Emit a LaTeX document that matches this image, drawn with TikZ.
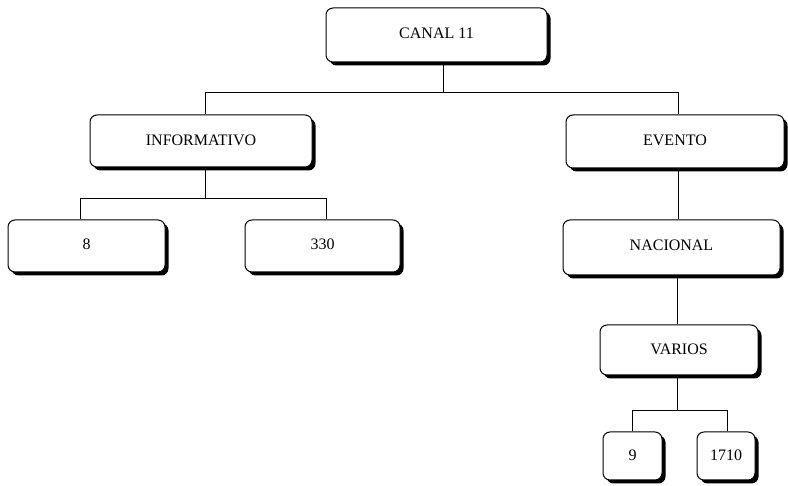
\documentclass[tikz,border=0pt]{standalone}
\usepackage{fontspec}
\setmainfont{Liberation Serif}
\usetikzlibrary{shadows}
\newcommand{\up}[2]{\raisebox{#1pt}{#2}}
\tikzset{
  box/.style={draw=black, line width=1pt, fill=white, rounded corners=7pt,
    inner sep=0pt, font=\fontsize{16}{18}\selectfont,
    drop shadow={shadow xshift=3.5pt, shadow yshift=-3.5pt, fill=black, opacity=1}},
  conn/.style={draw=black, line width=0.9pt}
}
\begin{document}
\begin{tikzpicture}[x=1pt,y=1pt]
\useasboundingbox (0,0) rectangle (788,486);
% y = 486 - pixel y
\node[box, minimum width=221pt, minimum height=54pt] (canal) at (436.5,451) {\up{4}{CANAL 11}};
\node[box, minimum width=222pt, minimum height=52pt] (info) at (201,345) {\up{2.5}{INFORMATIVO}};
\node[box, minimum width=218pt, minimum height=53pt] (evento) at (675,344.5) {\up{3}{EVENTO}};
\node[box, minimum width=157pt, minimum height=52pt] (b8) at (86.5,240) {\up{3.5}{8}};
\node[box, minimum width=155pt, minimum height=52pt] (b330) at (322.5,240) {\up{3.5}{330}};
\node[box, minimum width=217pt, minimum height=55pt] (nacional) at (671.5,238.5) {\up{5}{NACIONAL}};
\node[box, minimum width=158pt, minimum height=50pt] (varios) at (679,136) {\up{2}{VARIOS}};
\node[box, minimum width=59pt, minimum height=48pt] (b9) at (632.5,30) {\up{2}{9}};
\node[box, minimum width=58pt, minimum height=48pt] (b1710) at (726,30) {\up{2}{1710}};
% connectors
\coordinate (j1) at (443,394);
\draw[conn] ([xshift=6.5pt]canal.south) -- (j1);
\draw[conn] (j1) -| ([xshift=4pt]info.north);
\draw[conn] (j1) -| ([xshift=3pt]evento.north);
\coordinate (j2) at (205,288);
\draw[conn] ([xshift=4pt]info.south) -- (j2);
\draw[conn] (j2) -| ([xshift=-6.5pt]b8.north);
\draw[conn] (j2) -| ([xshift=3.5pt]b330.north);
\draw[conn] ([xshift=3pt]evento.south) -- ([xshift=6.5pt]nacional.north);
\draw[conn] ([xshift=5.5pt]nacional.south) -- ([xshift=-2pt]varios.north);
\coordinate (j3) at (677,76);
\draw[conn] ([xshift=-2pt]varios.south) -- (j3);
\draw[conn] (j3) -| (b9.north);
\draw[conn] (j3) -| ([xshift=1pt]b1710.north);
\end{tikzpicture}
\end{document}
